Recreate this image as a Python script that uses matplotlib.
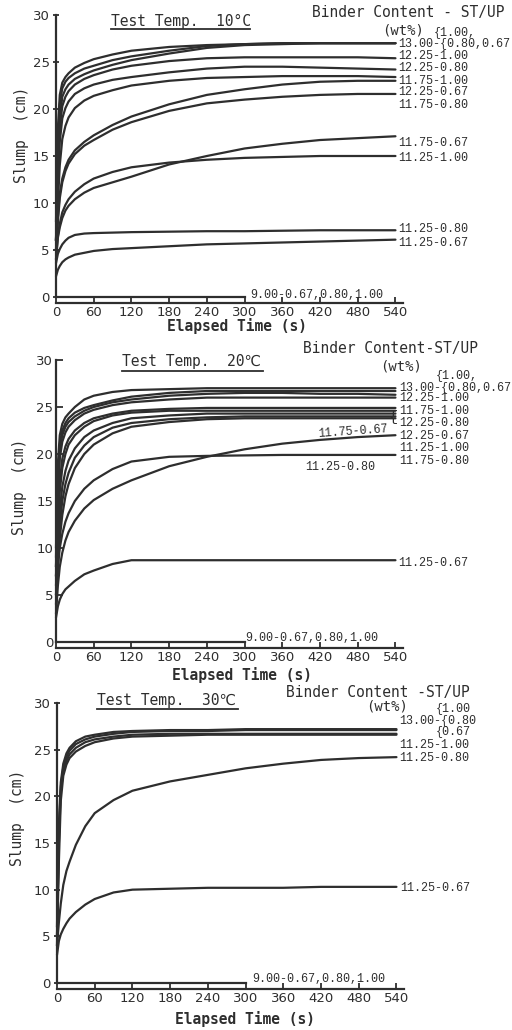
import matplotlib
matplotlib.use("Agg")
import matplotlib.pyplot as plt

t = [0, 3, 6, 10, 15, 20, 30, 45, 60, 90, 120, 180, 240, 300, 360, 420, 480, 540]
t_zero = [0, 300]
slump_zero = [0, 0]

# slump (cm), Test Temp. 10 C
slump_10 = {
    "13.00-1.00": [8, 18, 21.5, 22.8, 23.4, 23.8, 24.4, 24.9, 25.3, 25.8, 26.2, 26.6, 26.8, 26.9, 27.0, 27.0, 27.0, 27.0],
    "13.00-0.80": [6, 16, 20.5, 22.2, 22.9, 23.3, 23.8, 24.3, 24.6, 25.2, 25.6, 26.2, 26.7, 26.9, 27.0, 27.0, 27.0, 27.0],
    "13.00-0.67": [6, 14, 19, 21.3, 22.1, 22.6, 23.2, 23.7, 24.1, 24.7, 25.2, 25.9, 26.5, 26.8, 26.9, 27.0, 27.0, 27.0],
    "12.25-1.00": [6, 13, 18, 20.3, 21.3, 21.9, 22.6, 23.2, 23.6, 24.2, 24.6, 25.1, 25.4, 25.5, 25.5, 25.5, 25.5, 25.4],
    "12.25-0.80": [6, 12, 16.5, 19.0, 20.1, 20.8, 21.6, 22.2, 22.6, 23.1, 23.4, 23.9, 24.3, 24.5, 24.5, 24.4, 24.3, 24.2],
    "11.75-1.00": [5, 10, 14, 16.8, 18.2, 19.1, 20.1, 20.9, 21.4, 22.0, 22.5, 23.0, 23.3, 23.4, 23.5, 23.5, 23.5, 23.4],
    "12.25-0.67": [5, 8.5, 11, 12.6, 13.8, 14.6, 15.6, 16.5, 17.2, 18.3, 19.2, 20.5, 21.5, 22.1, 22.6, 22.9, 23.0, 23.0],
    "11.75-0.80": [5, 8, 10.5, 12.2, 13.4, 14.2, 15.2, 16.1, 16.7, 17.8, 18.6, 19.8, 20.6, 21.0, 21.3, 21.5, 21.6, 21.6],
    "11.75-0.67": [4, 6.3, 7.4, 8.4, 9.2, 9.7, 10.4, 11.1, 11.6, 12.2, 12.8, 14.1, 15.0, 15.8, 16.3, 16.7, 16.9, 17.1],
    "11.25-1.00": [4, 6.5, 7.8, 9.0, 9.8, 10.4, 11.2, 12.0, 12.6, 13.3, 13.8, 14.3, 14.6, 14.8, 14.9, 15.0, 15.0, 15.0],
    "11.25-0.80": [3.6, 4.6, 5.1, 5.6, 6.0, 6.3, 6.6, 6.75, 6.8, 6.85, 6.9, 6.95, 7.0, 7.0, 7.05, 7.1, 7.1, 7.1],
    "11.25-0.67": [2.2, 2.9, 3.3, 3.7, 4.0, 4.2, 4.5, 4.7, 4.9, 5.1, 5.2, 5.4, 5.6, 5.7, 5.8, 5.9, 6.0, 6.1],
}

# slump (cm), Test Temp. 20 C
slump_20 = {
    "13.00-1.00": [10, 19, 22, 23.2, 23.9, 24.3, 25.0, 25.8, 26.2, 26.6, 26.8, 26.9, 27.0, 27.0, 27.0, 27.0, 27.0, 27.0],
    "13.00-0.80": [9, 17, 21, 22.5, 23.3, 23.8, 24.4, 24.9, 25.2, 25.7, 26.1, 26.5, 26.7, 26.7, 26.7, 26.7, 26.7, 26.7],
    "13.00-0.67": [8, 16, 20.5, 22.0, 22.9, 23.4, 24.0, 24.6, 25.0, 25.5, 25.8, 26.2, 26.4, 26.5, 26.5, 26.4, 26.4, 26.3],
    "12.25-1.00": [8, 15, 19.5, 21.3, 22.3, 22.9, 23.6, 24.3, 24.7, 25.2, 25.5, 25.8, 26.0, 26.0, 26.0, 26.0, 26.0, 26.0],
    "11.75-1.00": [7, 13, 17, 19.5, 20.8, 21.6, 22.5, 23.3, 23.8, 24.3, 24.6, 24.8, 24.9, 24.9, 24.9, 24.9, 24.9, 24.9],
    "12.25-0.80": [7, 12, 16, 18.5, 20.0, 21.0, 22.0, 22.9, 23.5, 24.1, 24.4, 24.6, 24.6, 24.6, 24.6, 24.6, 24.6, 24.6],
    "12.25-0.67": [6, 10, 14, 16.5, 18.2, 19.3, 20.6, 21.8, 22.5, 23.3, 23.8, 24.1, 24.3, 24.3, 24.3, 24.3, 24.3, 24.3],
    "11.25-1.00": [5, 9, 12.5, 15.0, 16.8, 18.0, 19.6, 20.9, 21.8, 22.8, 23.3, 23.7, 23.9, 24.0, 24.0, 24.0, 24.0, 24.0],
    "11.75-0.80": [5, 8, 11, 13.5, 15.5, 16.8, 18.5, 20.0, 21.0, 22.2, 22.9, 23.4, 23.7, 23.8, 23.8, 23.8, 23.8, 23.8],
    "11.75-0.67": [3, 6, 8, 9.5, 10.8, 11.7, 12.9, 14.2, 15.1, 16.3, 17.2, 18.7, 19.7, 20.5, 21.1, 21.5, 21.8, 22.0],
    "11.25-0.80": [4, 8, 10, 11.5, 12.8, 13.7, 15.0, 16.3, 17.2, 18.4, 19.2, 19.7, 19.8, 19.85, 19.9, 19.9, 19.9, 19.9],
    "11.25-0.67": [2.6, 3.8, 4.5, 5.1, 5.6, 5.9, 6.5, 7.2, 7.6, 8.3, 8.7, 8.7, 8.7, 8.7, 8.7, 8.7, 8.7, 8.7],
}

# slump (cm), Test Temp. 30 C
slump_30 = {
    "13.00-1.00": [6, 17, 21.5, 23.5, 24.6, 25.2, 25.9, 26.4, 26.6, 26.9, 27.0, 27.1, 27.1, 27.2, 27.2, 27.2, 27.2, 27.2],
    "13.00-0.80": [5, 16, 21, 23.1, 24.2, 24.9, 25.6, 26.1, 26.4, 26.7, 26.9, 27.0, 27.0, 27.1, 27.1, 27.1, 27.1, 27.1],
    "13.00-0.67": [5, 15, 20.5, 22.7, 23.8, 24.5, 25.2, 25.8, 26.1, 26.4, 26.6, 26.7, 26.7, 26.7, 26.7, 26.7, 26.7, 26.7],
    "11.25-1.00": [4, 13, 19.5, 22.2, 23.4, 24.1, 24.8, 25.4, 25.8, 26.2, 26.4, 26.5, 26.6, 26.6, 26.6, 26.6, 26.6, 26.6],
    "11.25-0.80": [4, 6.5, 8.5, 10.5, 12.0, 13.0, 14.8, 16.8, 18.2, 19.6, 20.6, 21.6, 22.3, 23.0, 23.5, 23.9, 24.1, 24.2],
    "11.25-0.67": [3, 4.5, 5.2, 5.8, 6.4, 6.9, 7.6, 8.4, 9.0, 9.7, 10.0, 10.1, 10.2, 10.2, 10.2, 10.3, 10.3, 10.3],
}

x_ticks = [0, 60, 120, 180, 240, 300, 360, 420, 480, 540]
y_ticks = [0, 5, 10, 15, 20, 25, 30]

W, H = 512, 1030
INK = "#2e2e2e"
MONO = ["DejaVu Sans Mono", "DejaVu Sans"]
LAB = ["Liberation Mono", "DejaVu Sans Mono", "DejaVu Sans"]

fig = plt.figure(figsize=(W / 100, H / 100), dpi=100)


def ftext(x, y, s, size=8.5, family=LAB, **kw):
    # place text by figure pixel (from top-left)
    kw.setdefault("va", "center")
    kw.setdefault("ha", "left")
    fig.text(x / W, 1 - y / H, s, fontsize=size, family=family, color=INK, **kw)


def underline(x0, x1, y):
    fig.add_artist(plt.Line2D([x0 / W, x1 / W], [1 - y / H, 1 - y / H], color=INK, lw=1.3))


def panel(left, y0, y30, curves, ytick_dir):
    ax = fig.add_axes([left / W, 1 - y0 / H, 347 / W, (y0 - y30) / H])
    for vals in curves.values():
        ax.plot(t, vals, color=INK, lw=1.6, clip_on=False, solid_capstyle="round")
    ax.plot(t_zero, slump_zero, color=INK, lw=1.6, clip_on=False)
    ax.set_xlim(0, 552)
    ax.set_ylim(0, 30)
    ax.set_xticks(x_ticks)
    ax.set_yticks(y_ticks)
    for s in ("top", "right"):
        ax.spines[s].set_visible(False)
    ax.spines["bottom"].set_position(("outward", 4.5))
    ax.spines["left"].set_bounds(0, 30)
    for s in ("bottom", "left"):
        ax.spines[s].set_linewidth(1.6)
        ax.spines[s].set_color(INK)
    ax.tick_params(axis="x", direction="in", length=4, width=1.3, pad=2,
                   labelsize=9.5, colors=INK)
    ax.tick_params(axis="y", direction=ytick_dir, length=5, width=1.3, pad=2,
                   labelsize=9.5, colors=INK)
    ax.patch.set_alpha(0)
    return ax


ax1 = panel(56, 297, 15, slump_10, "inout")
ax2 = panel(56, 642, 360, slump_20, "in")
ax3 = panel(57, 983, 703, slump_30, "inout")

# ---- panel 1 texts
ftext(111, 21, "Test Temp.  10°C", 10.5, MONO)
underline(111, 250, 29)
ftext(312, 12, "Binder Content - ST/UP", 10.5, MONO)
ftext(382, 31, "(wt%)", 10, MONO)
ftext(434, 33, "{1.00,")
rows1 = [("13.00-{0.80,0.67", 44), ("12.25-1.00", 56), ("12.25-0.80", 68),
         ("11.75-1.00", 81), ("12.25-0.67", 92), ("11.75-0.80", 105),
         ("11.75-0.67", 143), ("11.25-1.00", 158), ("11.25-0.80", 229),
         ("11.25-0.67", 243)]
for s, y in rows1:
    ftext(398, y, s)
ftext(250, 295, "9.00-0.67,0.80,1.00")
ftext(22, 135, "Slump  (cm)", 10.5, MONO, rotation=90, ha="center")
ftext(237, 326, "Elapsed Time (s)", 10.5, MONO, ha="center", weight="semibold")

# ---- panel 2 texts
ftext(122, 362, "Test Temp.  20℃", 10.5, MONO)
underline(122, 263, 371)
ftext(303, 349, "Binder Content-ST/UP", 10.5, MONO)
ftext(380, 366, "(wt%)", 10, MONO)
ftext(436, 376, "{1.00,")
rows2 = [("13.00-{0.80,0.67", 388), ("12.25-1.00", 398), ("11.75-1.00", 411),
         ("12.25-0.80", 423), ("12.25-0.67", 436), ("11.25-1.00", 448),
         ("11.75-0.80", 461)]
for s, y in rows2:
    ftext(399, y, s)
ftext(397, 417, "{", 11, ha="right")
ftext(318, 432, "11.75-0.67", rotation=4)
ftext(305, 467, "11.25-0.80")
ftext(398, 563, "11.25-0.67")
ftext(245, 638, "9.00-0.67,0.80,1.00")
ftext(20, 487, "Slump  (cm)", 10.5, MONO, rotation=90, ha="center")
ftext(242, 675, "Elapsed Time (s)", 10.5, MONO, ha="center", weight="semibold")

# ---- panel 3 texts
ftext(97, 701, "Test Temp.  30℃", 10.5, MONO)
underline(97, 238, 709)
ftext(286, 692, "Binder Content -ST/UP", 10.5, MONO)
ftext(366, 706, "(wt%)", 10, MONO)
ftext(436, 709, "{1.00")
ftext(399, 721, "13.00-{0.80")
ftext(436, 732, "{0.67")
ftext(399, 745, "11.25-1.00")
ftext(399, 758, "11.25-0.80")
ftext(400, 888, "11.25-0.67")
ftext(252, 979, "9.00-0.67,0.80,1.00")
ftext(18, 818, "Slump  (cm)", 10.5, MONO, rotation=90, ha="center")
ftext(245, 1019, "Elapsed Time (s)", 10.5, MONO, ha="center", weight="semibold")

fig.savefig("out.png", dpi=100)
